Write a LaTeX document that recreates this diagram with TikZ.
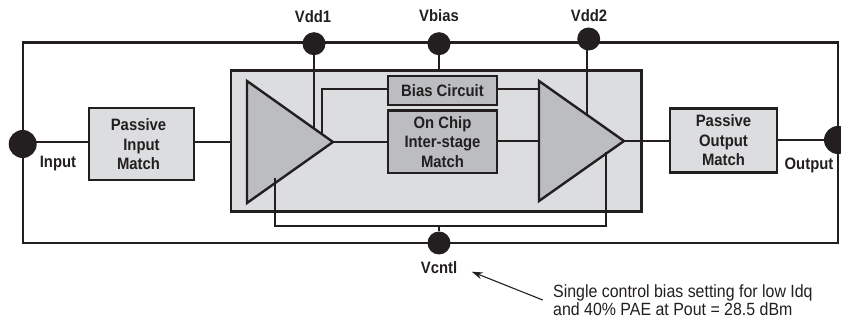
\documentclass[tikz,border=0pt]{standalone}
\usepackage{fontspec}
\setmainfont[FakeStretch=0.9]{Liberation Sans}
\usetikzlibrary{shapes.geometric,arrows.meta}
\definecolor{inkdark}{HTML}{231F20}
\definecolor{chipgray}{HTML}{DCDDDF}
\definecolor{ampgray}{HTML}{BCBDC0}
\begin{document}
\begin{tikzpicture}[
    x=1pt, y=-1pt,
    every node/.style={text=inkdark},
    wire/.style={draw=inkdark, line width=2pt},
    frameline/.style={draw=inkdark, line width=2.2pt, inner sep=0pt, outer sep=0pt},
    chip/.style={rectangle, fill=chipgray, draw=inkdark, line width=2.2pt, inner sep=0pt, outer sep=0pt},
    matchbox/.style={rectangle, fill=chipgray, draw=inkdark, line width=2.2pt, inner sep=0pt, outer sep=0pt,
        font=\fontsize{16.5}{19.5}\selectfont\bfseries, align=center},
    stagebox/.style={matchbox, fill=ampgray, line width=2.6pt},
    amp/.style={isosceles triangle, isosceles triangle stretches=true, shape border rotate=0,
        fill=ampgray, draw=inkdark, line width=2.4pt, inner sep=0pt, outer sep=0pt,
        minimum width=122pt, minimum height=86pt, anchor=apex},
    pin/.style={circle, fill=inkdark, inner sep=0pt, minimum size=23pt},
    bigpin/.style={pin, minimum size=28pt},
    pinlabel/.style={font=\fontsize{16.5}{18}\selectfont\bfseries, inner sep=0pt},
    note/.style={font=\fontsize{17.7}{18.3}\selectfont, align=left, inner sep=0pt}
]
\useasboundingbox (0,0) rectangle (841,320);

% Outer loop
\node[frameline, rectangle, minimum width=815pt, minimum height=200.5pt] (loop) at (430.5,142.7) {};

% Chip and blocks
\node[chip, minimum width=410.5pt, minimum height=141pt] (die) at (436.3,141) {};
\node[matchbox, minimum width=105pt, minimum height=72pt] (inmatch) at (141.5,144.3) {Passive\hspace*{6pt}\\Input\hspace*{6pt}\\Match\hspace*{6pt}};
\node[matchbox, minimum width=107pt, minimum height=64pt] (outmatch) at (723.5,140.6) {Passive\\Output\\Match};
\node[stagebox, minimum width=109pt, minimum height=29pt] (bias) at (442.5,90.5) {Bias Circuit};
\node[stagebox, minimum width=109pt, minimum height=62.5pt] (inter) at (442.5,141.8) {On Chip\\Inter-stage\\Match};

% Amplifiers
\node[amp] (amp1) at (333,142) {};
\node[amp, minimum width=120pt, minimum height=85pt] (amp2) at (624,141) {};

% Pins
\node[bigpin] (pinin) at (22.7,144) {};
\node[bigpin] (pinout) at (838,140) {};
\node[pin] (pinvdd1) at (314,43.7) {};
\node[pin] (pinvbias) at (439,43.7) {};
\node[pin] (pinvdd2) at (588.7,39) {};
\node[pin] (pinvcntl) at (439,243) {};

% Points where lines stop
\coordinate (vddone) at (314,129);
\coordinate (vddtwo) at (587,115);
\coordinate (biasleft) at (322,89);
\coordinate (biasdrop) at (322,135);
\coordinate (biasamp) at (539,89);
\coordinate (ctlone) at (275,178);
\coordinate (ctltwo) at (606,152);
\coordinate (ctlrow) at (439,226);

% Connections
\draw[wire] (pinin |- 0,142) -- (inmatch.west |- 0,142);
\draw[wire] (inmatch.east |- 0,142) -- (die.west |- 0,142);
\draw[wire] (amp1.apex) -- (inter.west |- amp1.apex);
\draw[wire] (inter.east |- amp2.apex) -- (amp2.apex -| 539,0);
\draw[wire] (amp2.apex) -- (outmatch.west |- amp2.apex);
\draw[wire] (outmatch.east |- pinout) -- (pinout);
\draw[wire] (pinvdd1) -- (vddone);
\draw[wire] (pinvdd2.center -| vddtwo) -- (vddtwo);
\draw[wire] (pinvbias) -- (pinvbias |- die.north);
\draw[wire] (bias.west |- biasleft) -- (biasleft) -- (biasdrop);
\draw[wire] (bias.east |- biasamp) -- (biasamp);
\draw[wire] (pinvcntl) -- (ctlrow);
\draw[wire] (ctlone) -- (ctlone |- ctlrow) -- (ctltwo |- ctlrow) -- (ctltwo);

% Labels
\node[pinlabel] (lblvdd1) at (313,17) {Vdd1};
\node[pinlabel] (lblvbias) at (439,16) {Vbias};
\node[pinlabel] (lblvdd2) at (589,16) {Vdd2};
\node[pinlabel] (lblvcntl) at (439,268) {Vcntl};
\node[pinlabel] (lblin) at (58,164) {Input};
\node[pinlabel] (lblout) at (809,165) {Output};

% Note and its arrow
\node[note, anchor=north west] (cmt) at (553,284.5) {Single control bias setting for low Idq\\and 40\% PAE at Pout = 28.5 dBm};
\coordinate (cmtstart) at (542.7,300);
\coordinate (cmtend) at (471.7,271.7);
\draw[draw=inkdark, line width=1.1pt, -{Stealth[length=11pt,width=7pt]}] (cmtstart) -- (cmtend);

\end{tikzpicture}
\end{document}
